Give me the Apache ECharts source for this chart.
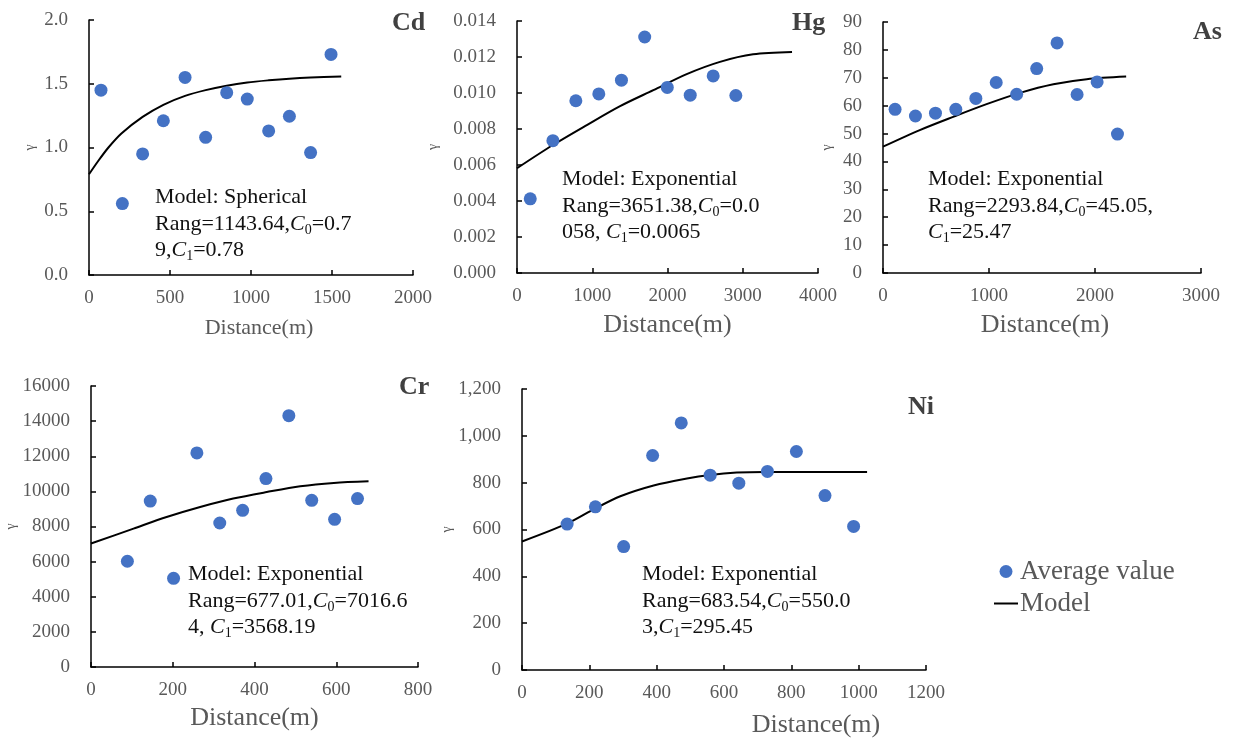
<!DOCTYPE html>
<html>
<head>
<meta charset="utf-8">
<script src="https://cdn.jsdelivr.net/npm/echarts@6/dist/echarts.min.js"></script>
<style>
html, body { margin: 0; padding: 0; background: #fff; }
#main { width: 1237px; height: 739px; }
</style>
</head>
<body>
<div id="main"></div>
<script>
// average semivariance points [distance, gamma]
var cdPoints = [[74, 1.45], [206, 0.56], [331, 0.95], [459, 1.21], [593, 1.55], [720, 1.08],
    [850, 1.43], [977, 1.38], [1109, 1.13], [1237, 1.245], [1368, 0.96], [1494, 1.73]];
var hgPoints = [[176, 0.00412], [477, 0.00735], [782, 0.00957], [1087, 0.00995], [1388, 0.01071],
    [1697, 0.01311], [1997, 0.01031], [2302, 0.00988], [2607, 0.01095], [2908, 0.00986]];
var asPoints = [[114, 58.7], [306, 56.3], [495, 57.3], [687, 58.7], [876, 62.6], [1068, 68.3],
    [1261, 64.1], [1450, 73.3], [1642, 82.5], [1831, 64.0], [2020, 68.5], [2212, 49.8]];
var crPoints = [[89, 6020], [145, 9450], [202, 5050], [259, 12190], [315, 8200], [371, 8920],
    [428, 10730], [484, 14310], [540, 9490], [596, 8410], [652, 9590]];
var niPoints = [[134, 623], [218, 697], [302, 527], [388, 916], [473, 1055], [559, 832],
    [644, 798], [729, 848], [815, 933], [900, 745], [985, 613]];

// fitted model curves
var cdModel = [[0, 0.79], [60, 0.90], [120, 1.00], [200, 1.11], [331, 1.24], [459, 1.335],
    [593, 1.405], [720, 1.45], [850, 1.485], [977, 1.51], [1109, 1.527], [1237, 1.54],
    [1368, 1.549], [1557, 1.557]];
var hgModel = [[0, 0.00582], [477, 0.00711], [928, 0.00822], [1370, 0.00927], [1812, 0.01016],
    [2255, 0.01105], [2697, 0.01173], [3138, 0.01215], [3655, 0.01228]];
var asModel = [[0, 45.3], [347, 51.25], [662, 56.0], [977, 60.55], [1292, 64.6], [1607, 67.7],
    [1922, 69.5], [2294, 70.45]];
var crModel = [[0, 7030], [104, 7880], [185, 8540], [267, 9110], [348, 9590], [430, 9960],
    [512, 10290], [594, 10480], [679, 10570]];
var niModel = [[0, 549], [134, 625], [218, 690], [292, 742], [391, 788], [490, 818],
    [559, 833], [638, 843], [720, 846], [1025, 846]];

// panel labels and model annotations
var elements = ['Cd', 'Hg', 'As', 'Cr', 'Ni'];
var notes = [
    'Model: Spherical\nRang=1143.64,{i|C}{s|0}=0.7\n9,{i|C}{s|1}=0.78',
    'Model: Exponential\nRang=3651.38,{i|C}{s|0}=0.0\n058, {i|C}{s|1}=0.0065',
    'Model: Exponential\nRang=2293.84,{i|C}{s|0}=45.05,\n{i|C}{s|1}=25.47',
    'Model: Exponential\nRang=677.01,{i|C}{s|0}=7016.6\n4, {i|C}{s|1}=3568.19',
    'Model: Exponential\nRang=683.54,{i|C}{s|0}=550.0\n3,{i|C}{s|1}=295.45'
];
var xMax = [2000, 4000, 3000, 800, 1200];
var xStep = [500, 1000, 1000, 200, 200];
var yMax = [2.0, 0.014, 90, 16000, 1200];
var yStep = [0.5, 0.002, 10, 2000, 200];

var serif = '"Liberation Serif", "Times New Roman", serif';
var grids = [
    { left: 89, top: 20, width: 324, height: 255 },
    { left: 517, top: 21, width: 301, height: 252 },
    { left: 883, top: 22, width: 318, height: 251 },
    { left: 91, top: 386, width: 327, height: 281 },
    { left: 522, top: 389, width: 404, height: 281 }
];
var labelPos = [[392, 10], [792, 10], [1193, 19], [399, 374], [908, 394]];
var notePos = [[155, 184], [562, 166], [928, 166], [188, 561], [642, 561]];
var xNameGap = [42, 39, 39, 38, 42];
var xNameFont = [22, 26, 26, 26, 26];
var xNameShift = [16, 0, 6, 0, 184];
var yNameGap = [52, 77, 49, 64, 57];
var yFormat = [
    function (v) { return v.toFixed(1); },
    function (v) { return v.toFixed(3); },
    function (v) { return String(v); },
    function (v) { return String(v); },
    function (v) { return v >= 1000 ? Math.floor(v / 1000) + ',' + String(v % 1000 + 1000).slice(1) : String(v); }
];
var pointSets = [cdPoints, hgPoints, asPoints, crPoints, niPoints];
var modelSets = [cdModel, hgModel, asModel, crModel, niModel];

var axisLine = { show: true, onZero: false, lineStyle: { color: '#000', width: 1.5 } };
var axisTick = { show: true, inside: true, length: 5, lineStyle: { color: '#000', width: 1.5 } };

var xAxes = [], yAxes = [], series = [], titles = [];
for (var i = 0; i < 5; i++) {
    xAxes.push({
        gridIndex: i, type: 'value', min: 0, max: xMax[i], interval: xStep[i],
        axisLine: axisLine, axisTick: axisTick, splitLine: { show: false },
        axisLabel: {
            color: '#595959', fontFamily: serif, fontSize: 19, margin: 14,
            formatter: function (v) { return String(v); }
        },
        name: 'Distance(m)', nameLocation: 'middle', nameGap: xNameGap[i],
        nameTextStyle: { color: '#595959', fontFamily: serif, fontSize: xNameFont[i], padding: [0, 0, 0, xNameShift[i]] }
    });
    yAxes.push({
        gridIndex: i, type: 'value', min: 0, max: yMax[i], interval: yStep[i],
        axisLine: axisLine, axisTick: axisTick, splitLine: { show: false },
        axisLabel: { color: '#595959', fontFamily: serif, fontSize: 19, margin: 21, formatter: yFormat[i] },
        name: 'γ', nameLocation: 'middle', nameGap: yNameGap[i],
        nameTextStyle: { color: '#595959', fontFamily: serif, fontSize: 14 }
    });
    series.push({
        name: 'Average value', type: 'scatter', xAxisIndex: i, yAxisIndex: i,
        symbol: 'circle', symbolSize: 13, itemStyle: { color: '#4472C4', opacity: 1 },
        data: pointSets[i], z: 3
    });
    series.push({
        name: 'Model', type: 'line', xAxisIndex: i, yAxisIndex: i,
        symbol: 'none', smooth: 0.3, lineStyle: { color: '#000', width: 2 },
        itemStyle: { color: 'rgba(0,0,0,0)' }, data: modelSets[i], z: 2
    });
    titles.push({
        text: elements[i], left: labelPos[i][0], top: labelPos[i][1], padding: 0,
        textStyle: { fontFamily: serif, fontSize: 26, fontWeight: 'bold', color: '#404040' }
    });
    titles.push({
        text: notes[i], left: notePos[i][0], top: notePos[i][1], padding: 0,
        textStyle: {
            fontFamily: serif, fontSize: 22, fontWeight: 'normal', color: '#111', lineHeight: 26.5,
            rich: {
                i: { fontFamily: serif, fontSize: 22, fontStyle: 'italic', color: '#111', lineHeight: 26.5 },
                s: { fontFamily: serif, fontSize: 14, color: '#111', lineHeight: 14, verticalAlign: 'bottom' }
            }
        }
    });
}

var chart = echarts.init(document.getElementById('main'));
chart.setOption({
    animation: false,
    backgroundColor: '#fff',
    title: titles,
    grid: grids,
    xAxis: xAxes,
    yAxis: yAxes,
    legend: {
        orient: 'vertical', left: 993, top: 558, padding: 0, itemGap: 5,
        itemWidth: 24, itemHeight: 13,
        textStyle: { fontFamily: serif, fontSize: 27, color: '#595959', padding: [0, 0, 0, -3] },
        data: [
            { name: 'Average value', icon: 'circle' },
            { name: 'Model', itemStyle: { opacity: 0 }, lineStyle: { color: '#000', width: 2 } }
        ]
    },
    series: series
});
</script>
</body>
</html>
